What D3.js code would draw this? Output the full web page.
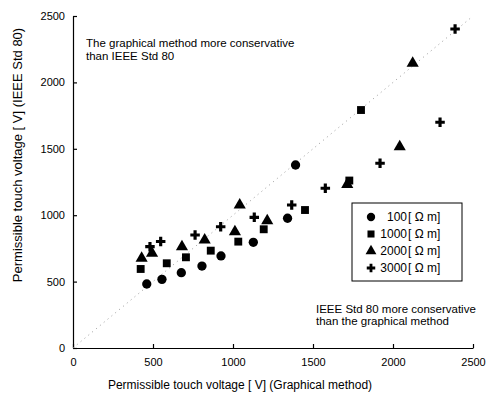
<!DOCTYPE html>
<html>
<head>
<meta charset="utf-8">
<script src="https://cdn.jsdelivr.net/npm/d3@7"></script>
<style>
  body { margin: 0; background: #fff; }
  svg text { font-family: "Liberation Sans", Arial, sans-serif; fill: #000; }
</style>
</head>
<body>
<div id="chart"></div>
<script>
// resistivity classes shown in the legend
const rhoLabels = ["100", "1000", "2000", "3000"];

// permissible touch voltage, graphical method (x) vs IEEE Std 80 (y)
const x100 = [461, 556, 677, 806, 925, 1127, 1341, 1391];
const y100 = [482, 517, 567, 617, 693, 796, 977, 1378];

const x1000 = [423, 586, 706, 861, 1033, 1192, 1450, 1727, 1800];
const y1000 = [595, 638, 683, 733, 801, 894, 1039, 1261, 1792];

const x2000 = [429, 494, 681, 823, 1012, 1042, 1214, 1714, 2042, 2123];
const y2000 = [675, 713, 763, 813, 876, 1077, 958, 1232, 1515, 2145];

const x3000 = [481, 548, 763, 923, 1133, 1367, 1577, 1919, 2294, 2388];
const y3000 = [763, 802, 851, 913, 984, 1077, 1203, 1391, 1700, 2402];

const tickValues = [0, 500, 1000, 1500, 2000, 2500];

class TouchVoltageVis {

    constructor(parentElement) {
        this.parentElement = parentElement;
        this.initVis();
    }

    initVis() {
        let vis = this;

        vis.margin = {top: 16, right: 17, bottom: 50, left: 73};
        vis.width = 490 - vis.margin.left - vis.margin.right;
        vis.height = 398 - vis.margin.top - vis.margin.bottom;

        vis.svg = d3.select("#" + vis.parentElement).append("svg")
            .attr("width", 490)
            .attr("height", 398)
            .append("g")
            .attr("transform", `translate(${vis.margin.left},${vis.margin.top})`);

        vis.x = d3.scaleLinear().domain([0, 2500]).range([0, vis.width]);
        vis.y = d3.scaleLinear().domain([0, 2500]).range([vis.height, 0]);

        vis.xAxis = d3.axisBottom(vis.x).tickValues(tickValues).tickFormat(d3.format("d"))
            .tickSizeInner(-4).tickSizeOuter(0).tickPadding(10);
        vis.yAxis = d3.axisLeft(vis.y).tickValues(tickValues).tickFormat(d3.format("d"))
            .tickSizeInner(-4).tickSizeOuter(0).tickPadding(8);

        vis.svg.append("g")
            .attr("class", "x-axis axis")
            .attr("transform", `translate(0,${vis.height})`)
            .call(vis.xAxis);

        vis.svg.append("g")
            .attr("class", "y-axis axis")
            .call(vis.yAxis);

        vis.svg.selectAll(".axis text").style("font-size", "11px");
        vis.svg.selectAll(".axis path, .axis line").attr("stroke", "#000").attr("stroke-width", 1.2);

        // 1:1 reference line
        vis.svg.append("line")
            .attr("x1", vis.x(0)).attr("y1", vis.y(0))
            .attr("x2", vis.x(2500)).attr("y2", vis.y(2500))
            .attr("stroke", "#999")
            .attr("stroke-width", 1)
            .attr("stroke-dasharray", "1,4");

        vis.svg.append("text")
            .attr("x", vis.width / 2 - 33)
            .attr("y", vis.height + 41)
            .attr("text-anchor", "middle")
            .style("font-size", "12px")
            .text("Permissible touch voltage [ V]  (Graphical method)");

        vis.svg.append("text")
            .attr("transform", `translate(-51,${vis.height / 2 - 27}) rotate(-90)`)
            .attr("text-anchor", "middle")
            .style("font-size", "13px")
            .text("Permissible touch voltage [ V]  (IEEE Std 80)");

        vis.svg.append("text")
            .attr("x", 13).attr("y", 31)
            .style("font-size", "11.5px")
            .text("The graphical method more conservative");
        vis.svg.append("text")
            .attr("x", 13).attr("y", 44)
            .style("font-size", "11.5px")
            .text("than IEEE Std 80");

        vis.svg.append("text")
            .attr("x", 243).attr("y", 297)
            .style("font-size", "11.5px")
            .text("IEEE Std 80 more conservative");
        vis.svg.append("text")
            .attr("x", 243).attr("y", 309)
            .style("font-size", "11.5px")
            .text("than the graphical method");

        vis.shapes = [d3.symbolCircle, d3.symbolSquare, d3.symbolTriangle, d3.symbolCross];
        vis.sizes = [68, 62, 64, 50];

        vis.wrangleData();
    }

    wrangleData() {
        let vis = this;

        let xs = [x100, x1000, x2000, x3000];
        let ys = [y100, y1000, y2000, y3000];

        vis.displayData = [];
        xs.forEach((arr, s) => {
            arr.forEach((v, i) => {
                vis.displayData.push({series: s, gx: v, ieee: ys[s][i]});
            });
        });

        vis.updateVis();
    }

    updateVis() {
        let vis = this;

        vis.svg.selectAll(".pt").data(vis.displayData)
            .enter().append("path")
            .attr("class", "pt")
            .attr("transform", d => `translate(${vis.x(d.gx)},${vis.y(d.ieee)})`)
            .attr("d", d => d3.symbol().type(vis.shapes[d.series]).size(vis.sizes[d.series])())
            .attr("fill", "#000");

        // legend
        let lg = vis.svg.append("g").attr("transform", "translate(279,187)");
        lg.append("rect")
            .attr("width", 110).attr("height", 78)
            .attr("fill", "#fff")
            .attr("stroke", "#000")
            .attr("stroke-width", 1);

        let rows = lg.selectAll(".lg-row").data(rhoLabels)
            .enter().append("g")
            .attr("class", "lg-row")
            .attr("transform", (d, i) => `translate(0,${14 + i * 17})`);

        rows.append("path")
            .attr("transform", "translate(19,0)")
            .attr("d", (d, i) => d3.symbol().type(vis.shapes[i]).size(vis.sizes[i] * 0.8)())
            .attr("fill", "#000");

        rows.append("text")
            .attr("x", 55).attr("y", 4)
            .attr("text-anchor", "end")
            .style("font-size", "12px")
            .text(d => d);

        rows.append("text")
            .attr("x", 56).attr("y", 4)
            .style("font-size", "12px")
            .text("[ \u03a9 m]");
    }
}

new TouchVoltageVis("chart");
</script>
</body>
</html>
